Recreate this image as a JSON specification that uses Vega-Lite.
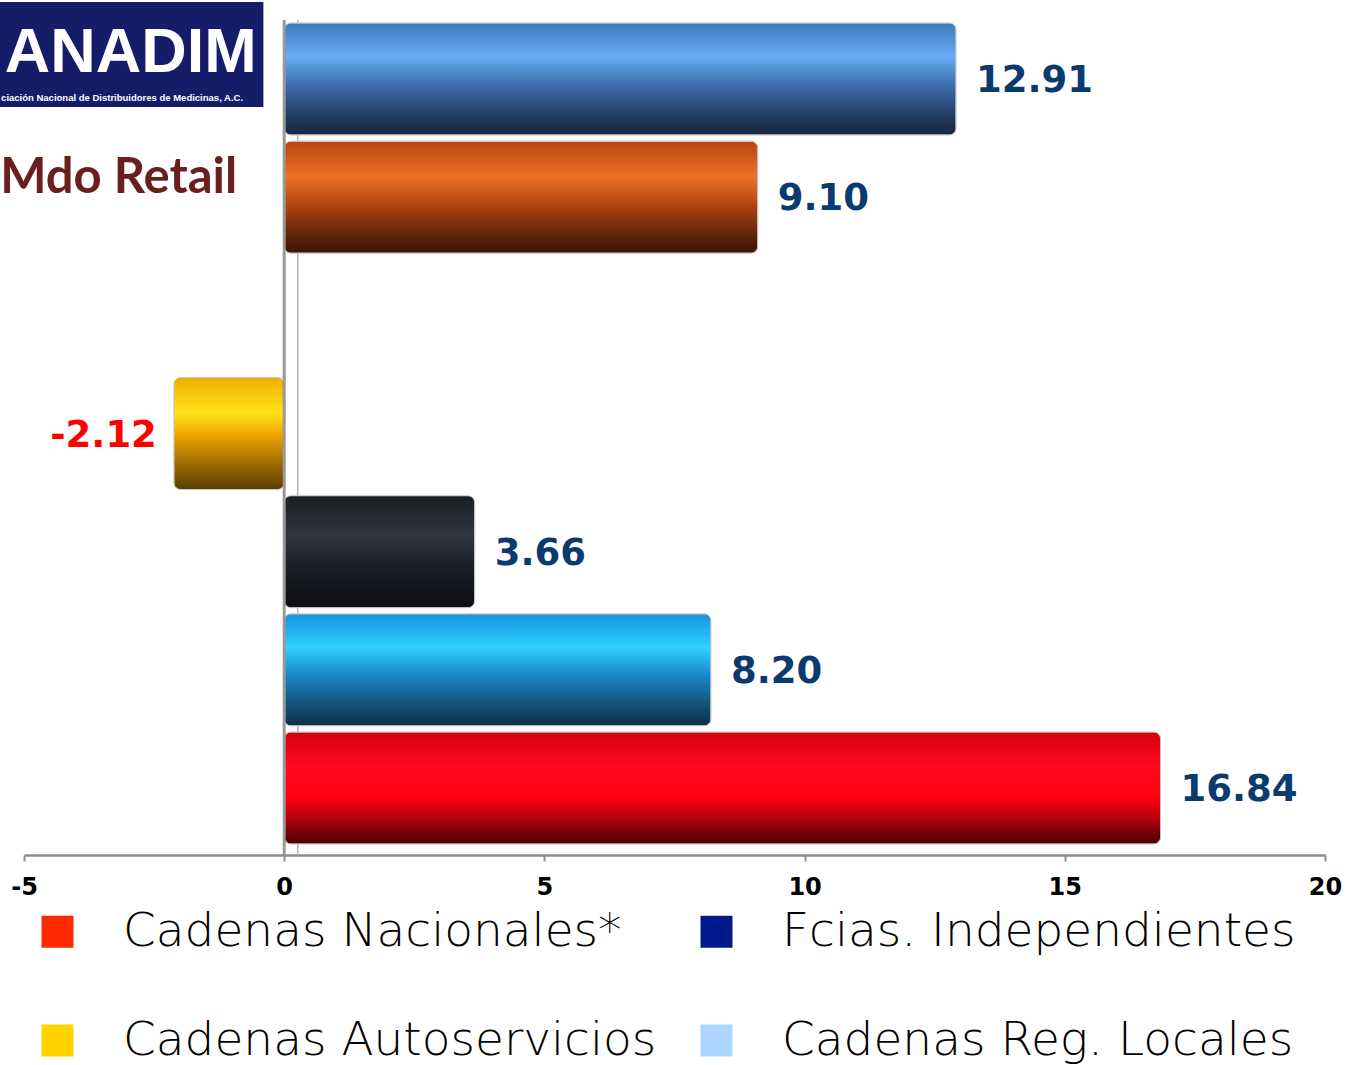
{
  "$schema": "https://vega.github.io/schema/vega-lite/v6.json",
  "width": 1301,
  "height": 835,
  "padding": {"left": 24, "top": 20, "right": 25, "bottom": 210},
  "autosize": {"type": "none"},
  "background": "white",
  "config": {
    "view": {"stroke": null},
    "font": "Liberation Sans",
    "locale": {"number": {"decimal": ".", "thousands": ",", "grouping": [3], "currency": ["$", ""], "minus": "-"}}
  },
  "datasets": {
    "barras": [
      {"grupo": "S1", "valor": 12.91},
      {"grupo": "S2", "valor": 9.10},
      {"grupo": "S4", "valor": -2.12},
      {"grupo": "S5", "valor": 3.66},
      {"grupo": "S6", "valor": 8.20},
      {"grupo": "S7", "valor": 16.84}
    ],
    "series": [
      {"serie": "Cadenas Nacionales*"},
      {"serie": "Fcias. Independientes"},
      {"serie": "Cadenas Autoservicios"},
      {"serie": "Cadenas Reg. Locales"}
    ],
    "logo": [{"nombre": "ANADIM", "sub": "ciación Nacional de Distribuidores de Medicinas, A.C.", "titulo": "Mdo Retail"}],
    "cero": [{"linea": "eje"}]
  },
  "layer": [
    {
      "data": {"name": "cero"},
      "mark": {"type": "rule", "color": "#b5b5b5", "strokeWidth": 1.5},
      "encoding": {
        "x": {
          "datum": 0.26, "type": "quantitative",
          "scale": {"domain": [-5, 20], "nice": false},
          "axis": {"values": [-5, 0, 5, 10, 15, 20], "title": null, "grid": false, "domainColor": "#8c8c8c", "domainWidth": 2.5, "tickColor": "#8c8c8c", "tickWidth": 2, "tickSize": 6, "labelFont": "DejaVu Sans", "labelFontWeight": "bold", "labelFontSize": 24, "labelColor": "#000000", "labelPadding": 14, "labelFlush": false}
        }
      }
    },
    {
      "data": {"name": "barras"},
      "mark": {"type": "bar", "cornerRadius": 7, "stroke": "#c4c4c4", "strokeWidth": 1},
      "encoding": {
        "y": {"field": "grupo", "type": "nominal", "scale": {"type": "band", "domain": ["S1", "S2", "S3", "S4", "S5", "S6", "S7"], "paddingInner": 0.052, "paddingOuter": 0.059, "align": 0.214}, "axis": null},
        "x": {"field": "valor", "type": "quantitative"},
        "fill": {
          "condition": [
            {"test": "datum.grupo === 'S1'", "value": {"gradient": "linear", "x1": 0, "y1": 0, "x2": 0, "y2": 1, "stops": [{"offset": 0, "color": "#3d78c0"}, {"offset": 0.3, "color": "#66adf5"}, {"offset": 0.55, "color": "#3d6fae"}, {"offset": 0.8, "color": "#26416a"}, {"offset": 1, "color": "#18263c"}]}},
            {"test": "datum.grupo === 'S2'", "value": {"gradient": "linear", "x1": 0, "y1": 0, "x2": 0, "y2": 1, "stops": [{"offset": 0, "color": "#b9460f"}, {"offset": 0.32, "color": "#ef7027"}, {"offset": 0.6, "color": "#a8410f"}, {"offset": 0.85, "color": "#5c220a"}, {"offset": 1, "color": "#3a1505"}]}},
            {"test": "datum.grupo === 'S4'", "value": {"gradient": "linear", "x1": 0, "y1": 0, "x2": 0, "y2": 1, "stops": [{"offset": 0, "color": "#f0ae00"}, {"offset": 0.32, "color": "#ffe21a"}, {"offset": 0.5, "color": "#f0a800"}, {"offset": 0.8, "color": "#946400"}, {"offset": 1, "color": "#583f00"}]}},
            {"test": "datum.grupo === 'S5'", "value": {"gradient": "linear", "x1": 0, "y1": 0, "x2": 0, "y2": 1, "stops": [{"offset": 0, "color": "#1a1d24"}, {"offset": 0.35, "color": "#2f3542"}, {"offset": 0.7, "color": "#171a20"}, {"offset": 1, "color": "#0c0e12"}]}},
            {"test": "datum.grupo === 'S6'", "value": {"gradient": "linear", "x1": 0, "y1": 0, "x2": 0, "y2": 1, "stops": [{"offset": 0, "color": "#1594de"}, {"offset": 0.3, "color": "#2fd0ff"}, {"offset": 0.55, "color": "#1a88c8"}, {"offset": 0.8, "color": "#14557a"}, {"offset": 1, "color": "#0b3046"}]}}
          ],
          "value": {"gradient": "linear", "x1": 0, "y1": 0, "x2": 0, "y2": 1, "stops": [{"offset": 0, "color": "#d4000c"}, {"offset": 0.3, "color": "#ff0a20"}, {"offset": 0.58, "color": "#ff0010"}, {"offset": 0.8, "color": "#a8000a"}, {"offset": 1, "color": "#420004"}]}
        }
      }
    },
    {
      "data": {"name": "cero"},
      "mark": {"type": "rule", "color": "#999999", "strokeWidth": 3},
      "encoding": {"x": {"datum": 0, "type": "quantitative"}}
    },
    {
      "data": {"name": "barras"},
      "transform": [{"filter": "datum.valor >= 0"}],
      "mark": {"type": "text", "align": "left", "baseline": "middle", "dx": 20, "dy": 2, "font": "DejaVu Sans", "fontWeight": "bold", "fontSize": 37, "color": "#0b3a6e"},
      "encoding": {
        "y": {"field": "grupo", "type": "nominal", "axis": null},
        "x": {"field": "valor", "type": "quantitative"},
        "text": {"field": "valor", "type": "quantitative", "format": ".2f"}
      }
    },
    {
      "data": {"name": "barras"},
      "transform": [{"filter": "datum.valor < 0"}],
      "mark": {"type": "text", "align": "right", "baseline": "middle", "dx": -17, "dy": 2, "font": "DejaVu Sans", "fontWeight": "bold", "fontSize": 37, "color": "#ff0000"},
      "encoding": {
        "y": {"field": "grupo", "type": "nominal", "axis": null},
        "x": {"field": "valor", "type": "quantitative"},
        "text": {"field": "valor", "type": "quantitative", "format": ".2f"}
      }
    },
    {
      "data": {"name": "logo"},
      "mark": {"type": "bar", "color": "#161d68", "size": 105, "yOffset": -24.5, "cornerRadius": 0},
      "encoding": {
        "x": {"datum": -5.5, "type": "quantitative"},
        "x2": {"datum": -0.40},
        "y": {"datum": "S1", "type": "nominal", "axis": null}
      }
    },
    {
      "data": {"name": "logo"},
      "mark": {"type": "text", "align": "center", "baseline": "middle", "yOffset": -26, "font": "Liberation Sans", "fontWeight": "bold", "fontSize": 63, "color": "white"},
      "encoding": {
        "x": {"datum": -2.95, "type": "quantitative"},
        "y": {"datum": "S1", "type": "nominal", "axis": null},
        "text": {"field": "nombre"}
      }
    },
    {
      "data": {"name": "logo"},
      "mark": {"type": "text", "align": "left", "baseline": "middle", "yOffset": 19, "font": "Liberation Sans", "fontWeight": "bold", "fontSize": 9.5, "color": "white"},
      "encoding": {
        "x": {"datum": -5.44, "type": "quantitative"},
        "y": {"datum": "S1", "type": "nominal", "axis": null},
        "text": {"field": "sub"}
      }
    },
    {
      "data": {"name": "logo"},
      "mark": {"type": "text", "align": "left", "baseline": "middle", "yOffset": -19, "font": "Lato", "fontWeight": "bold", "fontSize": 49, "color": "#6b1e1e"},
      "encoding": {
        "x": {"datum": -5.457, "type": "quantitative"},
        "y": {"datum": "S2", "type": "nominal", "axis": null},
        "text": {"field": "titulo"}
      }
    },
    {
      "data": {"name": "series"},
      "mark": {"type": "point", "shape": "square", "filled": true, "size": 0},
      "encoding": {
        "color": {
          "field": "serie", "type": "nominal",
          "scale": {"domain": ["Cadenas Nacionales*", "Fcias. Independientes", "Cadenas Autoservicios", "Cadenas Reg. Locales"], "range": ["#ff2a00", "#001a8c", "#ffd200", "#aad6ff"]},
          "legend": {"orient": "none", "legendX": 10, "legendY": 888, "direction": "horizontal", "columns": 2, "title": null, "symbolType": "square", "symbolSize": 1024, "symbolOpacity": 1, "symbolStrokeWidth": 0, "labelFont": "DejaVu Sans", "labelFontWeight": 200, "labelFontSize": 47, "labelColor": "#000000", "labelOffset": 42, "columnPadding": 36, "rowPadding": 61, "labelLimit": 800}
        }
      }
    }
  ]
}
